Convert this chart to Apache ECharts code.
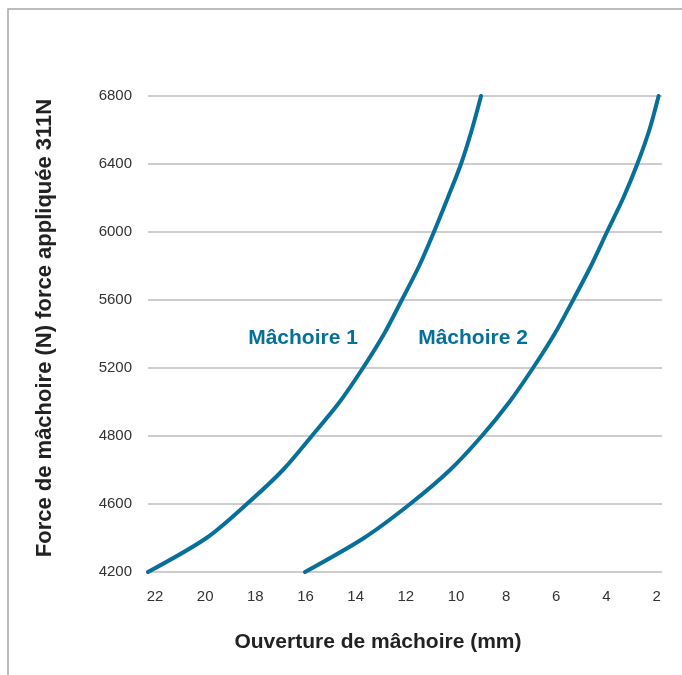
<!DOCTYPE html>
<html>
<head>
<meta charset="utf-8">
<style>
  html, body { margin: 0; padding: 0; background: #fff; }
  #chart { width: 682px; height: 675px; }
</style>
<script src="https://cdn.jsdelivr.net/npm/echarts@6/dist/echarts.min.js"></script>
</head>
<body>
<div id="chart"></div>
<script>
// Tick labels (as printed on the reference)
const xTicks = [22, 20, 18, 16, 14, 12, 10, 8, 6, 4, 2];
const yTickLabels = ['4200', '4600', '4800', '5200', '5600', '6000', '6400', '6800'];

// Force levels (N, linear grid scale) at which the curves were read
const forceLevels = [4000, 4200, 4400, 4600, 4800, 5000, 5200, 5400, 5600, 5800, 6000, 6200, 6400, 6600, 6800];

// Mâchoire 1: jaw opening (mm) at each force level
const jaw1Opening = [22.28, 19.95, 18.34, 16.90, 15.75, 14.64, 13.71, 12.87, 12.16, 11.47, 10.88, 10.33, 9.80, 9.37, 9.00];

// Mâchoire 2: jaw opening (mm) at each force level
const jaw2Opening = [16.02, 13.67, 11.83, 10.24, 8.97, 7.87, 6.93, 6.07, 5.33, 4.62, 3.98, 3.33, 2.77, 2.29, 1.92];

// Series name labels
const seriesNames = ['Mâchoire 1', 'Mâchoire 2'];
const labelOpening = [16.10, 9.32];
const labelForce = [5376, 5376];

const lineColor = '#07709a';
const font = '"Liberation Sans", Arial, Helvetica, sans-serif';

const chart = echarts.init(document.getElementById('chart'), null, { renderer: 'canvas' });

const zip = (a, b) => a.map((v, i) => [v, b[i]]);

chart.setOption({
  animation: false,
  backgroundColor: '#fff',
  graphic: [{
    type: 'rect',
    shape: { x: 8, y: 9, width: 720, height: 720 },
    style: { fill: 'none', stroke: '#a8a8a8', lineWidth: 1.5 },
    silent: true
  }],
  grid: { left: 148, right: 20, top: 96, bottom: 103, containLabel: false },
  xAxis: {
    type: 'value',
    inverse: true,
    min: 1.785,
    max: 22.28,
    name: 'Ouverture de mâchoire (mm)',
    nameLocation: 'middle',
    nameGap: 60,
    nameTextStyle: { fontFamily: font, fontSize: 21, fontWeight: 'bold', color: '#222', padding: [0, 54, 0, 0] },
    axisLine: { show: false },
    axisTick: { show: false },
    splitLine: { show: false },
    axisLabel: {
      customValues: xTicks,
      margin: 17,
      fontFamily: font, fontSize: 15, color: '#333'
    }
  },
  yAxis: {
    type: 'value',
    min: 4000,
    max: 6800,
    interval: 400,
    name: 'Force de mâchoire (N) force appliquée 311N',
    nameLocation: 'middle',
    nameRotate: 90,
    nameGap: 92,
    nameTextStyle: { fontFamily: font, fontSize: 22, fontWeight: 'bold', color: '#222', padding: [0, 0, 0, 12] },
    axisLine: { show: false },
    axisTick: { show: false },
    splitLine: { show: true, lineStyle: { color: '#bcbcbc', width: 1.5 } },
    axisLabel: {
      margin: 16,
      fontFamily: font, fontSize: 15, color: '#333',
      formatter: v => yTickLabels[Math.round((v - 4000) / 400)]
    }
  },
  series: [
    {
      type: 'line', name: seriesNames[0],
      data: zip(jaw1Opening, forceLevels),
      smooth: 0.3,
      showSymbol: false,
      lineStyle: { color: lineColor, width: 4, cap: 'round', join: 'round' }
    },
    {
      type: 'line', name: seriesNames[1],
      data: zip(jaw2Opening, forceLevels),
      smooth: 0.3,
      showSymbol: false,
      lineStyle: { color: lineColor, width: 4, cap: 'round', join: 'round' }
    },
    {
      type: 'scatter',
      symbolSize: 0,
      itemStyle: { opacity: 1 },
      data: seriesNames.map((n, i) => ({ name: n, value: [labelOpening[i], labelForce[i]] })),
      label: {
        show: true, position: 'inside', opacity: 1,
        formatter: p => p.name,
        fontFamily: font, fontSize: 21, fontWeight: 'bold', color: lineColor
      },
      silent: true
    }
  ]
});
</script>
</body>
</html>
